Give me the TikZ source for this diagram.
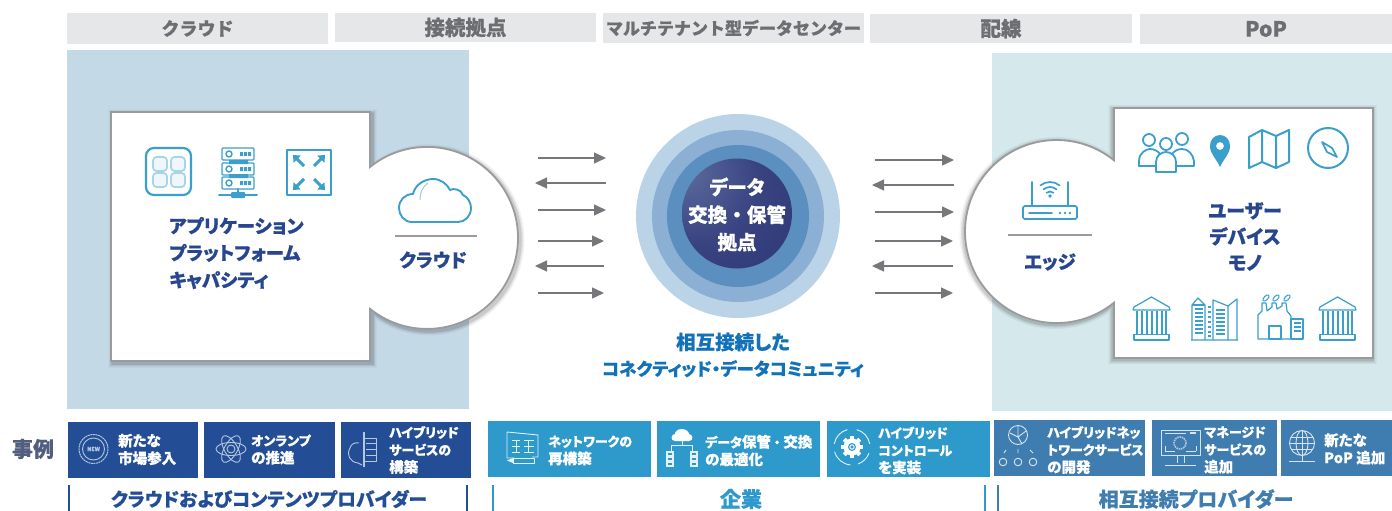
\documentclass[tikz,border=0pt]{standalone}
\usepackage{fontspec}
\setmainfont{Noto Sans CJK JP}[BoldFeatures={FakeBold=0.5}]
\newfontfamily\propjp{Noto Sans CJK JP}[RawFeature={+palt},BoldFeatures={FakeBold=0.5}]
\usetikzlibrary{arrows.meta,shadings}
\definecolor{hdrfill}{HTML}{E6E7E9}
\definecolor{hdrtext}{HTML}{6D6E71}
\definecolor{panelL}{HTML}{C4D9E6}
\definecolor{panelR}{HTML}{D5E8EC}
\definecolor{navy}{HTML}{27468F}
\definecolor{iconblue}{HTML}{3A9FCB}
\definecolor{edgegray}{HTML}{9A9B9D}
\definecolor{flowgray}{HTML}{76777A}
\definecolor{ringA}{HTML}{BBD3E6}
\definecolor{ringB}{HTML}{8CB0D3}
\definecolor{ringC}{HTML}{5A8FC0}
\definecolor{corehi}{HTML}{5E6C9E}
\definecolor{coremid}{HTML}{384380}
\definecolor{coreend}{HTML}{2C3575}
\definecolor{commblue}{HTML}{1272B8}
\definecolor{caseA}{HTML}{234E96}
\definecolor{caseB}{HTML}{2E9ACB}
\definecolor{caseC}{HTML}{3F7DB1}
\definecolor{glyphA}{HTML}{B5C6DF}
\definecolor{glyphB}{HTML}{E3F1F8}
\definecolor{glyphC}{HTML}{D5E3EF}
\pgfdeclareradialshading{corehl}{\pgfpoint{-25bp}{20bp}}{color(0bp)=(corehi);color(28bp)=(coremid);color(60bp)=(coreend);color(100bp)=(coreend)}
\newcommand{\kj}[1]{{\fontsize{14.5}{17.5}\selectfont #1}}
\tikzset{
  hdr/.style={inner sep=0pt,anchor=center,text=hdrtext},
  navytext/.style={text=navy,inner sep=0pt,font=\fontsize{18.5}{27}\selectfont\bfseries\propjp},
  core/.style={text=white,inner sep=0pt,align=center,font=\fontsize{19.5}{27.5}\selectfont\bfseries\propjp},
  flow/.style={draw=flowgray,line width=1.4pt,-{Triangle[length=12pt,width=11pt]}},
  ic/.style={draw=iconblue,line width=1.6pt,line join=round,line cap=round},
  icthin/.style={draw=iconblue,line width=1pt,line join=round},
  caselabel/.style={text=white,inner sep=0pt,anchor=west,align=left,font=\fontsize{13}{17.5}\selectfont\bfseries\propjp},
  glyph/.style={line width=0.9pt,line join=round},
  bar/.style={line width=2.2pt},
  group/.style={inner sep=0pt},
  rule/.style={draw=edgegray,line width=1.2pt},
  outline/.style={draw=edgegray,line width=1.8pt,fill=white,line join=miter},
}
\newcommand{\cloudpath}{(412,222) .. controls (404,222) and (399,215) .. (399,208) .. controls (399,200) and (405,194) .. (413,194) .. controls (415,185) and (424,179) .. (433,179) .. controls (441,179) and (447,184) .. (450,190) .. controls (453,188) and (461,189) .. (463,195) .. controls (468,197) and (471,203) .. (471,208) .. controls (471,216) and (465,222) .. (458,222) -- cycle}
\newcommand{\leftshape}{(111,112) -- (370,112) -- (370,167) arc (-128.8:128.8:91) -- (370,361) -- (111,361) -- cycle}
\newcommand{\rightshape}{(1114,108) -- (1373,108) -- (1373,358) -- (1114,358) -- (1114,302.7) arc (51.07:308.93:91.5) -- cycle}
\newcommand{\iconbank}[2]{\begin{scope}[shift={(#1,#2)},icthin,line width=1.2pt]
  \draw (1,10) -- (18.5,0) -- (36,10) -- (37,13) -- (0,13) -- cycle;
  \foreach \cx in {4,9,14,19,24,29,33}{\draw (\cx,14) -- (\cx,37);}
  \draw (1,37.5) rectangle (36,43);
\end{scope}}
\begin{document}
\begin{tikzpicture}[x=1pt,y=-1pt]
\useasboundingbox (0,0) rectangle (1392,511);
% headers
\foreach \nm/\xa/\ya/\xb/\yb/\sz/\tx in {hA/67/13/328/44/18/クラウド,hB/335/13/596/42/20.5/接続拠点,hC/603/13/864/43/17/マルチテナント型データセンター,hD/870/14/1132/43/20.5/配線,hE/1140/14/1392/44/21/PoP}{
  \path[fill=hdrfill] (\xa,\ya) rectangle (\xb,\yb);
  \node[hdr,font=\fontsize{\sz}{\sz}\selectfont\bfseries] (\nm) at ({(\xa+\xb)/2},{(\ya+\yb)/2}) {\tx};
}
% panels
\fill[panelL] (67,50) rectangle (469,409);
\fill[panelR] (992,53) rectangle (1392,411);
% left lens shape
\foreach \w/\o in {9/0.05,6/0.07,3.5/0.10}{
  \draw[black,opacity=\o,line width=\w pt,shift={(2,2)}] \leftshape;
}
\draw[outline] \leftshape;
\foreach \w/\o in {9/0.05,6/0.07,3.5/0.10}{
  \draw[black,opacity=\o,line width=\w pt,shift={(-1,1.5)}] \rightshape;
}
\draw[outline] \rightshape;
% left texts
\node[navytext,anchor=west,align=left] (appl) at (169,253) {アプリケーション\\プラットフォーム\\キャパシティ};
\coordinate (cl) at (395,236); \coordinate (cr) at (477,236);
\draw[rule] (cl) -- (cr);
\node[navytext] (cloudlab) at (433,260) {クラウド};
% left icons
\draw[ic,line width=2.2pt,rounded corners=8pt] (146,148) rectangle (191,195);
\foreach \ax/\ay in {153/157,171/157,153/173,171/173}{
  \draw[draw=iconblue!45,line width=1.8pt,fill=iconblue!8,rounded corners=3.5pt] (\ax,\ay) rectangle ++(14,14);
}
\begin{scope}[ic,line width=1.4pt]
  \foreach \ay in {148,163,177}{
    \draw[rounded corners=1pt] (222,\ay) rectangle (254,\ay+12);
    \draw (229,\ay+6) circle (3);
    \fill[iconblue] (240,\ay+4) rectangle ++(3,4) (244,\ay+4) rectangle ++(3,4) (248,\ay+4) rectangle ++(3,4);
  }
  \fill[iconblue] (229,160) rectangle (248,164) (229,174) rectangle (248,178);
  \draw (238,189) -- (238,194);
  \draw[line width=2pt] (219,195) -- (257,195);
  \fill[iconblue,draw=none,rounded corners=1pt] (231,192) rectangle (245,198);
\end{scope}
\draw[ic,line width=1.8pt] (287,150) rectangle (331,195);
\foreach \ax/\ay/\bx/\by in {304/166/293/155,314/166/325/155,304/179/293/190,314/179/325/190}{
  \draw[draw=iconblue,line width=3pt,-{Triangle[length=6pt,width=10pt]}] (\ax,\ay) -- (\bx,\by);
}
\draw[ic,line width=1.9pt] \cloudpath;
\draw[draw=iconblue!50,line width=1pt] (420,200) .. controls (420,193) and (422,187) .. (428,183);
% right texts
\node[navytext,align=center,font=\fontsize{19}{26}\selectfont\bfseries\propjp] (userlab) at (1245,236.5) {ユーザー\\デバイス\\モノ};
\coordinate (el) at (1008,235); \coordinate (er) at (1092,235);
\draw[rule] (el) -- (er);
\node[navytext] (edgelab) at (1050,262) {エッジ};
% router
\begin{scope}[ic,line width=1.7pt]
  \draw[rounded corners=1.5pt] (1023,206) rectangle (1077,219);
  \draw (1032,182) -- (1032,206) (1068,182) -- (1068,206);
  \draw (1029,213) -- (1052,213);
  \fill[iconblue] (1060,213) circle (1.3) (1065,213) circle (1.3) (1070,213) circle (1.3);
  \fill[iconblue] (1050,196) circle (1.8);
  \draw (1050,197) ++(-130:5.5) arc (-130:-50:5.5);
  \draw (1050,197) ++(-130:10) arc (-130:-50:10);
  \draw (1050,197) ++(-130:15) arc (-130:-50:15);
\end{scope}
% people
\begin{scope}[ic,line width=1.8pt]
  \draw (1149,140) circle (6) (1182,139) circle (6);
  \draw (1139,166) -- (1139,161) .. controls (1139,153) and (1146,149) .. (1150,149) .. controls (1154,149) and (1158,151) .. (1160,154);
  \draw (1172,154) .. controls (1174,151) and (1178,149) .. (1182,149) .. controls (1188,149) and (1193,154) .. (1194,161) -- (1194,166) -- (1177,166);
  \draw (1139,166) -- (1155,166);
  \draw[fill=white] (1156,172) -- (1156,162) .. controls (1156,156) and (1161,152) .. (1166,152) .. controls (1171,152) and (1176,156) .. (1176,162) -- (1176,172) -- cycle;
  \draw (1166,144) circle (6);
\end{scope}
% pin
\path[fill=iconblue,even odd rule] (1220,167) .. controls (1216,158) and (1210,154) .. (1210,146) .. controls (1210,140) and (1214,135) .. (1220,135) .. controls (1226,135) and (1230,140) .. (1230,146) .. controls (1230,154) and (1224,158) .. (1220,167) -- cycle (1220,146) circle (4);
% map
\draw[ic,line width=2pt] (1249,137) -- (1262,130) -- (1276,136) -- (1289,130) -- (1289,162) -- (1276,168) -- (1262,162) -- (1249,168) -- cycle (1262,130) -- (1262,162) (1276,136) -- (1276,168);
% compass
\draw[ic,line width=2pt] (1328,148) circle (20);
\draw[ic,line width=1.7pt] (1322,142) -- (1332,148) -- (1337,157) -- (1327,152) -- cycle;
% bottom right building icons
\iconbank{1133}{297}
\iconbank{1319}{297}
\begin{scope}[icthin,line width=1.2pt]
  \draw (1191,340) -- (1238,340) (1192,340) -- (1192,305) -- (1198,298) -- (1205,305) -- (1205,340);
  \draw (1192,305) -- (1205,305);
  \foreach \ay in {309,313,317,321,325,329,333}{\draw (1195,\ay) -- (1203,\ay);}
  \foreach \ay in {307,312,317,322,327,332,336}{\draw (1208,\ay) -- (1211,\ay);}
  \draw (1213,340) -- (1213,300) -- (1228,306) -- (1228,340);
  \foreach \ay in {310,314,318,322,326,330,334}{\draw (1216,\ay) -- (1225,\ay);}
  \draw (1228,306) -- (1237,299) -- (1237,340);
\end{scope}
\begin{scope}[icthin,line width=1.2pt]
  \draw (1258,339) -- (1258,315) -- (1262,311) -- (1262,303) -- (1266,303) -- (1267,311) -- (1272,307) -- (1272,303) -- (1276,303) -- (1277,309) -- (1282,306) -- (1282,303) -- (1286,303) -- (1287,311) -- (1291,316) -- (1291,339) -- cycle;
  \draw (1269,326) rectangle (1281,339);
  \draw (1291,319) rectangle (1303,339);
  \foreach \ay in {323,327,331}{\draw (1294,\ay) -- (1301,\ay);}
  \foreach \ax in {1266,1276,1287}{\draw[rotate around={45:(\ax,298)},line width=1pt] (\ax,298) ellipse (4 and 2);}
\end{scope}
% central circles
\fill[ringA] (738,216) circle (102);
\fill[ringB] (738,216) circle (86);
\fill[ringC] (738,216) circle (71);
\path[shading=corehl] (737,213.5) circle (55);
\node[core] (corelab) at (737,214.5) {データ\\交換\hspace{5pt}・\hspace{5pt}保管\\拠点};
\node[inner sep=0pt,align=center,text=commblue,font=\fontsize{17.5}{26}\selectfont\bfseries\propjp] (comm) at (733,355) {{\fontsize{19.5}{26}\selectfont 相互接続した}\\コネクティッド・データコミュニティ};
% flows
\foreach \i/\xa/\ya/\xb in {1/538/158/606,2/606/183/535,3/538/210/606,4/538/241/604,5/604/266/535,6/538/293/604,7/875/160/954,8/954/185/872,9/875/212/954,10/875/241/953,11/953/266/872,12/875/293/953}{
  \coordinate (fa\i) at (\xa,\ya);
  \coordinate (fb\i) at (\xb,\ya);
  \draw[flow] (fa\i) -- (fb\i);
}
% case label
\node[inner sep=0pt,text=hdrtext!60!navy,font=\fontsize{21}{21}\selectfont\bfseries] (jirei) at (33,449) {事例};
% case boxes
\foreach \col/\xa/\ya/\xb/\yb in {caseA/68/422/198/478,caseA/204/422/335/478,caseA/341/422/471/478,caseB/488/421/651/477,caseB/657/421/820/477,caseB/827/421/990/477,caseC/994/420/1145/476,caseC/1152/420/1277/476,caseC/1281/420/1392/476}{
  \fill[\col] (\xa,\ya) rectangle (\xb,\yb);
}
\node[caselabel] (c1) at (118,449.5) {\kj{新たな}\\\kj{市場参入}};
\node[caselabel] (c2) at (251,449.5) {オンランプ\\\kj{の推進}};
\node[caselabel] (c3) at (389,450) {ハイブリッド\\サービスの\\\kj{構築}};
\node[caselabel] (c4) at (548,450.5) {ネットワークの\\\kj{再構築}};
\node[caselabel] (c5) at (705,450.5) {データ\kj{保管}\hspace{3pt}・\hspace{3pt}\kj{交換}\\\kj{の最適化}};
\node[caselabel] (c6) at (878,450.5) {ハイブリッド\\コントロール\\\kj{を実装}};
\node[caselabel] (c7) at (1047,450) {ハイブリッドネッ\\トワークサービス\\\kj{の開発}};
\node[caselabel] (c8) at (1204,450) {マネージド\\サービスの\\\kj{追加}};
\node[caselabel] (c9) at (1324,449) {\kj{新たな}\\\kj{PoP 追加}};
% case glyphs A
\begin{scope}[glyph,draw=glyphA]
  \draw[draw=glyphA,line width=1pt,dash pattern=on 2pt off 0.6pt] (93.5,449) circle (14.5);
  \draw[draw=glyphA] (93.5,449) circle (11);
  \node[inner sep=0pt,text=glyphA,font=\fontsize{5.5}{5.5}\selectfont\bfseries] (newg) at (93.5,449) {NEW};
  \foreach \r in {0,60,120}{\draw[draw=glyphA,rotate around={\r:(231,449)}] (231,449) ellipse (15 and 6.5);}
  \draw[draw=glyphA] (231,449) circle (4);
  \draw[draw=glyphA] (362,465) -- (358,463) .. controls (350,462) and (346,455) .. (350,448) .. controls (351,444) and (355,442) .. (359,443);
  \draw[draw=glyphA,line width=1.2pt] (364,432) -- (364,467);
  \draw[draw=glyphA] (364,438) rectangle (376,461);
  \foreach \ay in {443,449,455}{\draw[draw=glyphA] (366,\ay) -- (376,\ay);}
\end{scope}
% case glyphs B
\begin{scope}[glyph,draw=glyphB]
  \draw[draw=glyphB] (507,432) -- (538,435) -- (538,457) -- (532,457) (507,432) -- (507,458) -- (514,458);
  \foreach \ay in {440,446,452}{
    \draw[draw=glyphB] (512,\ay) -- (520,\ay) (524,\ay) -- (534,\ay);
  }
  \draw[draw=glyphB] (516,440) -- (516,452) (528,440) -- (528,452);
  \draw[draw=glyphB,fill=caseB] (513,458) rectangle (534,463);
  \fill[glyphB] (513,458) -- (507,460.5) -- (513,463) -- cycle;
  \fill[white] (682,429) .. controls (677,429) and (675,432) .. (675,434) .. controls (671,434) and (670,441) .. (675,441) -- (689,441) .. controls (694,441) and (693,434) .. (689,434) .. controls (689,432) and (686,429) .. (682,429) -- cycle;
  \draw[draw=glyphB] (682,441) -- (682,445) (671,451) -- (671,445) -- (692,445) -- (692,451);
  \foreach \ax in {666,690}{
    \fill[glyphB] (\ax,451) rectangle ++(8,16);
    \foreach \ay in {454,459,464}{\fill[caseB] (\ax+2,\ay-1) rectangle ++(4,1.6);}
  }
  \draw[draw=glyphB] (852,447) ++(20:18) arc (20:70:18);
  \draw[draw=glyphB] (852,447) ++(95:18) arc (95:165:18);
  \draw[draw=glyphB] (852,447) ++(190:18) arc (190:255:18);
  \draw[draw=glyphB] (852,447) ++(285:18) arc (285:350:18);
  \fill[white] (852,447) circle (8.5);
  \foreach \r in {0,45,...,315}{\fill[white,rotate around={\r:(852,447)}] (850,436) rectangle (854,440);}
  \fill[caseB] (852,447) circle (4);
  \draw[draw=white,line width=1pt] (852,447) circle (2.2);
\end{scope}
% case glyphs C
\begin{scope}[glyph,draw=glyphC]
  \draw[draw=glyphC] (1018,435) circle (9.5);
  \draw[draw=glyphC] (1010,433) -- (1018,437) -- (1026,431) (1018,426) -- (1018,437) -- (1022,444);
  \draw[draw=glyphC] (1006,450) -- (1004,453) (1018,449) -- (1018,453) (1030,450) -- (1033,453);
  \foreach \ax in {1003,1018,1033}{\draw[draw=glyphC] (\ax,462) circle (3.8);}
  \draw[draw=glyphC] (1161,430) rectangle (1200,455);
  \draw[draw=glyphC] (1165,451) -- (1165,446) (1165,451) -- (1175,451) (1196,451) -- (1196,446) (1196,451) -- (1186,451) (1165,433) -- (1186,433);
  \fill[glyphC] (1190,431.5) rectangle (1196,434);
  \draw[draw=glyphA,dash pattern=on 1.5pt off 0.8pt,line width=1.6pt] (1180,443) circle (6);
  \draw[draw=glyphC] (1177,455) -- (1177,463) (1184,455) -- (1184,463);
  \draw[draw=glyphC] (1165,465) -- (1196,465);
  \draw[draw=glyphC] (1302,443) circle (12.5) (1302,443) ellipse (6 and 12.5);
  \draw[draw=glyphC] (1302,430.5) -- (1302,455.5) (1291,437) -- (1313,437) (1290,443) -- (1314,443) (1291,449) -- (1313,449);
  \draw[draw=glyphC] (1302,455.5) -- (1302,461);
  \draw[draw=glyphC,line width=1.4pt] (1289,461.5) -- (1315,461.5);
\end{scope}
% groups
\draw[bar,draw=caseA] (69,485) -- (69,511) (467,485) -- (467,511);
\draw[bar,draw=caseB] (493,485) -- (493,511) (985,485) -- (985,511);
\draw[bar,draw=caseC] (998,485) -- (998,511);
\node[group,text=caseA,font=\fontsize{18.7}{18.7}\selectfont\bfseries\propjp] (g1) at (269,499) {クラウドおよびコンテンツプロバイダー};
\node[group,text=caseB,font=\fontsize{21}{21}\selectfont\bfseries] (g2) at (741,499) {企業};
\node[group,text=caseC,font=\fontsize{20}{20}\selectfont\bfseries\propjp] (g3) at (1196,499) {相互接続プロバイダー};
\end{tikzpicture}
\end{document}
